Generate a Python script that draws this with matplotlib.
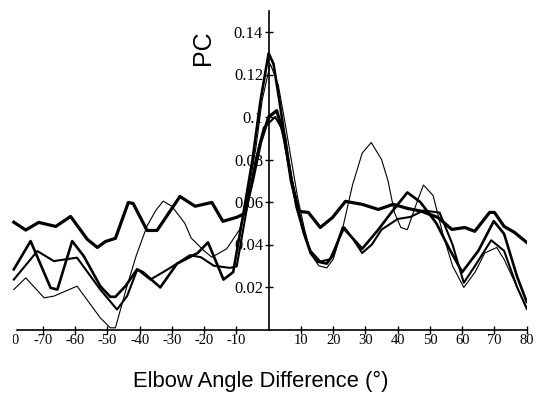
import numpy as np
import matplotlib
matplotlib.use("Agg")
import matplotlib.pyplot as plt
from matplotlib.transforms import Bbox, TransformedBbox

# angle difference (deg) and PC values for each trace
flat_x = [-79, -75.3, -71.3, -66, -61.4, -56.2, -53.1, -50.6, -47.5, -43.5, -42, -37.7,
          -34.6, -27.5, -22.8, -17.6, -14.2, -9.9, -7.4, -5, -2.5, 0, 2.5, 5, 7, 9.3,
          12.3, 16, 19.8, 23.8, 29, 34, 38.6, 43, 47.5, 52.5, 56.8, 60.8, 63.9, 68.5,
          70, 73, 76.2, 80]
flat_y = [0.0505, 0.0468, 0.0504, 0.0485, 0.0532, 0.0424, 0.0386, 0.0414, 0.0429, 0.0598,
          0.0593, 0.0466, 0.0466, 0.0626, 0.058, 0.0598, 0.0509, 0.0528, 0.0546, 0.07,
          0.088, 0.1, 0.103, 0.09, 0.07, 0.0556, 0.0551, 0.048, 0.0527, 0.0603, 0.0589,
          0.0565, 0.0589, 0.057, 0.0556, 0.0527, 0.0471, 0.048, 0.0462, 0.0551, 0.0551,
          0.0485, 0.0457, 0.041]

high_x = [-79, -73.8, -67.6, -65.5, -60.9, -57.3, -52.2, -49.1, -47.5, -44.4, -40.8, -39,
          -33.6, -28.4, -22, -18.8, -14, -11, -8, -5, -2.5, 0, 1.5, 3.4, 6, 8.6, 11, 13,
          15, 18, 20, 23, 26, 29, 34, 38, 43, 47, 52, 56, 60, 65, 69.8, 73, 77, 80]
high_y = [0.0283, 0.0416, 0.0196, 0.0188, 0.0416, 0.0345, 0.0204, 0.0154, 0.0154, 0.0204,
          0.0283, 0.027, 0.0198, 0.031, 0.036, 0.041, 0.0235, 0.027, 0.053, 0.08, 0.108,
          0.13, 0.125, 0.107, 0.08, 0.058, 0.045, 0.036, 0.032, 0.031, 0.035, 0.048,
          0.043, 0.038, 0.047, 0.055, 0.0645, 0.06, 0.05, 0.038, 0.027, 0.037, 0.051,
          0.045, 0.025, 0.013]

mid_x = [-79, -71.7, -66.6, -59.4, -52.2, -47, -43.9, -40.7, -36.7, -32.7, -28.4, -24.4,
         -21, -17, -12, -9.9, -6.8, -4, -1.5, 2, 4, 6.5, 9, 11, 13, 16, 19, 21, 23.5, 26,
         29, 32, 35, 40, 44, 48, 53, 57, 60.5, 64, 69, 73, 77, 80]
mid_y = [0.0235, 0.0369, 0.0322, 0.0338, 0.0188, 0.0094, 0.0157, 0.0283, 0.0235, 0.027,
         0.031, 0.035, 0.034, 0.03, 0.029, 0.0297, 0.0565, 0.08, 0.095, 0.1, 0.095, 0.075,
         0.058, 0.045, 0.037, 0.032, 0.033, 0.04, 0.048, 0.043, 0.036, 0.04, 0.047, 0.052,
         0.053, 0.056, 0.055, 0.04, 0.022, 0.03, 0.042, 0.037, 0.02, 0.01]

thin_x = [-79, -75.3, -69.6, -66.6, -59.4, -52.2, -49.1, -47.5, -44, -41, -37.7, -35,
          -32.7, -30, -26, -24, -20, -17.6, -13, -9, -6.5, -4, -2, 0.5, 3, 5, 7, 9, 11,
          13, 15.5, 18, 20, 23, 26, 29, 31.8, 35, 37, 39, 41, 43, 46, 48, 51, 54, 57,
          60.5, 64, 67, 70.7, 73, 77, 80]
thin_y = [0.0188, 0.0243, 0.0149, 0.0157, 0.0204, 0.0055, 0.0008, 0.0008, 0.02, 0.035,
          0.0487, 0.056, 0.0604, 0.058, 0.05, 0.043, 0.037, 0.034, 0.038, 0.047, 0.063,
          0.085, 0.108, 0.125, 0.115, 0.098, 0.08, 0.062, 0.048, 0.036, 0.03, 0.029,
          0.033, 0.048, 0.068, 0.083, 0.088, 0.08, 0.07, 0.055, 0.048, 0.047, 0.06, 0.068,
          0.063, 0.045, 0.03, 0.0198, 0.027, 0.036, 0.0386, 0.033, 0.02, 0.0094]

x_ticks = [-80, -70, -60, -50, -40, -30, -20, -10, 10, 20, 30, 40, 50, 60, 70, 80]
y_ticks = [0.02, 0.04, 0.06, 0.08, 0.1, 0.12, 0.14]
y_labels = ["0.02", "0.04", "0.06", "0.08", "0.1", "0.12", "0.14"]

fig = plt.figure(figsize=(5.36, 4.03), dpi=100)
ax = fig.add_axes([10.6 / 536, 1 - 329.5 / 403, 516.1 / 536, 318.75 / 403])

ax.plot(flat_x, flat_y, color="black", lw=2.3, solid_joinstyle="round")
ax.plot(high_x, high_y, color="black", lw=1.9, solid_joinstyle="round")
ax.plot(mid_x, mid_y, color="black", lw=1.5, solid_joinstyle="round")
ax.plot(thin_x, thin_y, color="black", lw=0.8, solid_joinstyle="round")

ax.set_xlim(-80, 80)
ax.set_ylim(0, 0.15)

for s in ["top", "right"]:
    ax.spines[s].set_visible(False)
ax.spines["left"].set_position(("data", 0))
ax.spines["bottom"].set_bounds(-78, 80)
for s in ["left", "bottom"]:
    ax.spines[s].set_linewidth(1.2)

ax.set_xticks(x_ticks)
ax.set_xticklabels([str(v) for v in x_ticks], family="Liberation Serif", fontsize=10.5)
ax.set_yticks(y_ticks)
ax.set_yticklabels(y_labels, family="Liberation Serif", fontsize=12)
ax.tick_params(direction="inout", length=6, width=1)
ax.tick_params(axis="x", pad=0)
ax.tick_params(axis="y", pad=1)

# the leftmost label is cut off by the page edge, and has no tick mark
first_tick = ax.xaxis.get_major_ticks()[0]
first_tick.tick1line.set_visible(False)
first = first_tick.label1
first.set_clip_on(True)
first.set_clip_box(TransformedBbox(Bbox.from_extents(12.5 / 536, 0, 1, 1), fig.transFigure))

fig.text(203 / 536, 1 - 48 / 403, "PC", rotation=90, ha="center", va="center",
         family="Liberation Sans", fontsize=18)
fig.text(261 / 536, 1 - 381 / 403, "Elbow Angle Difference (°)", ha="center", va="center",
         family="Liberation Sans", fontsize=15.8)

fig.savefig("out.png", dpi=100)
